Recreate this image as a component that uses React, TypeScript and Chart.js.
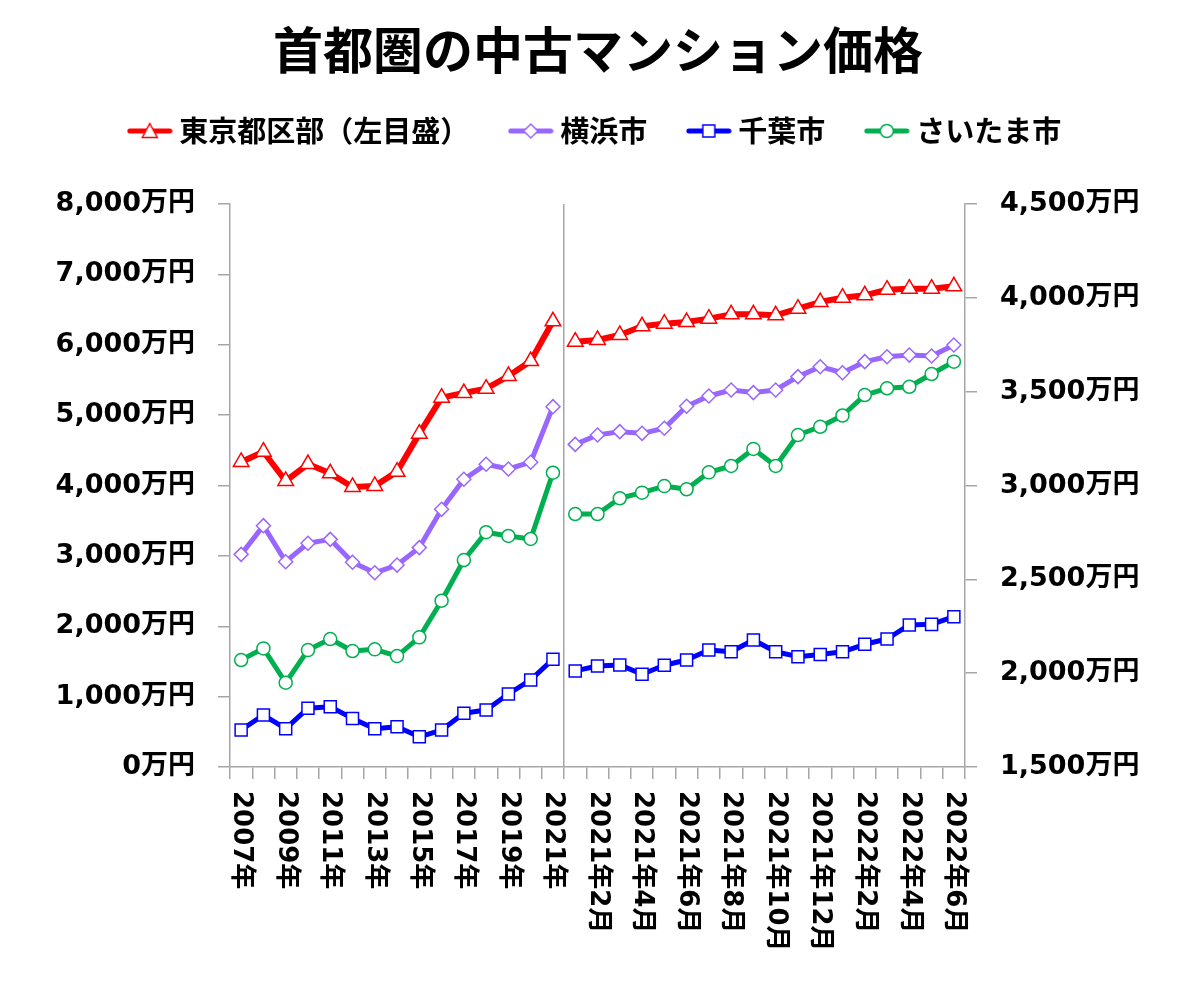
import React, { useEffect, useRef } from 'react';
import { Chart, registerables } from 'chart.js';

Chart.register(...registerables);

// ---- data ----
const annualCategories = [
  '2007年', '2008年', '2009年', '2010年', '2011年', '2012年', '2013年', '2014年',
  '2015年', '2016年', '2017年', '2018年', '2019年', '2020年', '2021年',
];
const monthlyCategories = [
  '2021年1月', '2021年2月', '2021年3月', '2021年4月', '2021年5月', '2021年6月',
  '2021年7月', '2021年8月', '2021年9月', '2021年10月', '2021年11月', '2021年12月',
  '2022年1月', '2022年2月', '2022年3月', '2022年4月', '2022年5月', '2022年6月',
];

// 東京都区部 (left axis, 万円)
const tokyoAnnual = [4334, 4480, 4064, 4305, 4173, 3979, 3993, 4197, 4737, 5248, 5314, 5376, 5556, 5769, 6333];
const tokyoMonthly = [6044, 6068, 6139, 6262, 6300, 6323, 6371, 6432, 6432, 6418, 6512, 6607, 6669, 6702, 6782, 6797, 6797, 6830];
// 横浜市 (right axis, 万円)
const yokohamaAnnual = [2633, 2786, 2594, 2692, 2713, 2591, 2535, 2576, 2669, 2873, 3033, 3113, 3088, 3124, 3420];
const yokohamaMonthly = [3219, 3269, 3287, 3278, 3305, 3422, 3477, 3509, 3495, 3509, 3580, 3633, 3601, 3660, 3686, 3695, 3690, 3749];
// 千葉市 (right axis, 万円)
const chibaAnnual = [1697, 1777, 1704, 1813, 1821, 1759, 1704, 1715, 1661, 1697, 1786, 1804, 1889, 1964, 2074];
const chibaMonthly = [2012, 2038, 2044, 1994, 2042, 2070, 2123, 2114, 2177, 2114, 2088, 2100, 2114, 2154, 2182, 2257, 2260, 2301];
// さいたま市 (right axis, 万円)
const saitamaAnnual = [2070, 2132, 1949, 2123, 2182, 2118, 2127, 2091, 2191, 2386, 2603, 2751, 2731, 2715, 3068];
const saitamaMonthly = [2848, 2848, 2932, 2962, 2997, 2980, 3070, 3104, 3195, 3104, 3269, 3313, 3373, 3482, 3518, 3526, 3594, 3660];

const seriesNames = ['東京都区部（左目盛）', '横浜市', '千葉市', 'さいたま市'];
const titleText = '首都圏の中古マンション価格';

const leftMin = 0;
const leftMax = 8000;
const leftStep = 1000;
const rightMin = 1500;
const rightMax = 4500;
const rightStep = 500;
const unit = '万円';

const categories = [...annualCategories, ...monthlyCategories];
const breakIndex = annualCategories.length - 1;

// ---- styles ----
const GRAY = '#A6A6A6';
const CJK = '"Noto Sans CJK JP"';
const NUM_FONT = '"DejaVu Sans", "Noto Sans CJK JP"';
const RED = '#FF0000';
const PURPLE = '#9966FF';
const BLUE = '#0000FF';
const GREEN = '#00B050';

function makeIcon(color: string, shape: string, lineW: number) {
  const c = document.createElement('canvas');
  c.width = 46;
  c.height = 22;
  const g = c.getContext('2d')!;
  const cx = 23;
  const cy = 11;
  g.strokeStyle = color;
  g.lineWidth = lineW;
  g.lineCap = 'round';
  g.beginPath();
  g.moveTo(3, cy);
  g.lineTo(43, cy);
  g.stroke();
  g.fillStyle = '#fff';
  g.lineWidth = 1.5;
  g.beginPath();
  if (shape === 'triangle') {
    g.moveTo(cx, cy - 7.5);
    g.lineTo(cx + 7.5, cy + 6.5);
    g.lineTo(cx - 7.5, cy + 6.5);
    g.closePath();
  } else if (shape === 'diamond') {
    g.moveTo(cx, cy - 7);
    g.lineTo(cx + 7, cy);
    g.lineTo(cx, cy + 7);
    g.lineTo(cx - 7, cy);
    g.closePath();
  } else if (shape === 'square') {
    g.rect(cx - 6, cy - 6, 12, 12);
  } else {
    g.arc(cx, cy, 6.5, 0, Math.PI * 2);
  }
  g.fill();
  g.stroke();
  return c;
}

const xLabelPlugin = {
  id: 'rotatedXLabels',
  afterDraw(chart: any) {
    const ctx = chart.ctx;
    const xs = chart.scales.x;
    ctx.save();
    ctx.font = `bold 26px ${NUM_FONT}`;
    ctx.fillStyle = '#000';
    ctx.textAlign = 'left';
    ctx.textBaseline = 'middle';
    categories.forEach((lab, i) => {
      if (i % 2 !== 0) return;
      const px = xs.getPixelForValue(i);
      ctx.save();
      ctx.translate(px, xs.top + 24);
      ctx.rotate(Math.PI / 2);
      ctx.fillText(lab, 0, 0);
      ctx.restore();
    });
    ctx.restore();
  },
};

export default function App() {
  const ref = useRef<HTMLCanvasElement | null>(null);

  useEffect(() => {
    document.body.style.margin = '0';
    const canvas = ref.current;
    if (!canvas) return;

    const icons = [
      makeIcon(RED, 'triangle', 5),
      makeIcon(PURPLE, 'diamond', 5),
      makeIcon(BLUE, 'square', 5),
      makeIcon(GREEN, 'circle', 5),
    ];

    const gap = {
      borderColor: (c: any) => (c.p0DataIndex === breakIndex ? 'rgba(0,0,0,0)' : undefined),
    };

    const common = {
      pointBackgroundColor: '#FFFFFF',
      pointBorderWidth: 1.5,
      tension: 0,
      borderJoinStyle: 'round' as const,
      borderCapStyle: 'round' as const,
      segment: gap,
    };

    const fmt = (v: any) => Number(v).toLocaleString('en-US') + unit;

    const chart = new Chart(canvas, {
      type: 'line',
      data: {
        labels: categories,
        datasets: [
          {
            ...common,
            label: seriesNames[0],
            data: [...tokyoAnnual, ...tokyoMonthly],
            yAxisID: 'y',
            borderColor: RED,
            borderWidth: 6,
            pointStyle: 'triangle',
            pointRadius: 9,
            pointBorderColor: RED,
          },
          {
            ...common,
            label: seriesNames[1],
            data: [...yokohamaAnnual, ...yokohamaMonthly],
            yAxisID: 'y2',
            borderColor: PURPLE,
            borderWidth: 5,
            pointStyle: 'rectRot',
            pointRadius: 7,
            pointBorderColor: PURPLE,
          },
          {
            ...common,
            label: seriesNames[2],
            data: [...chibaAnnual, ...chibaMonthly],
            yAxisID: 'y2',
            borderColor: BLUE,
            borderWidth: 5,
            pointStyle: 'rect',
            pointRadius: 8.5,
            pointBorderColor: BLUE,
          },
          {
            ...common,
            label: seriesNames[3],
            data: [...saitamaAnnual, ...saitamaMonthly],
            yAxisID: 'y2',
            borderColor: GREEN,
            borderWidth: 5,
            pointStyle: 'circle',
            pointRadius: 6.5,
            pointBorderColor: GREEN,
          },
        ],
      },
      options: {
        responsive: false,
        animation: false,
        events: [],
        layout: { padding: 0 },
        plugins: {
          title: {
            display: true,
            text: titleText,
            color: '#000',
            font: { family: CJK, size: 50, weight: 'bold', lineHeight: 0.8 },
            padding: { top: 30, bottom: 0 },
          },
          legend: {
            display: true,
            position: 'top',
            labels: {
              usePointStyle: true,
              pointStyleWidth: 30,
              padding: 46.5,
              color: '#000',
              font: { family: CJK, size: 29, weight: 'bold' },
              generateLabels: (ch: any) => {
                const items = (Chart as any).defaults.plugins.legend.labels.generateLabels(ch);
                return items.map((it: any, i: number) => ({ ...it, pointStyle: icons[i], fontColor: '#000' }));
              },
            },
          },
          subtitle: {
            display: true,
            text: '',
            weight: 0,
            font: { size: 1, lineHeight: 1 },
            padding: { top: 47.5, bottom: 0 },
          },
          tooltip: { enabled: false },
        },
        scales: {
          x: {
            type: 'category',
            offset: true,
            grid: {
              offset: true,
              drawOnChartArea: true,
              color: (c: any) => (c.index === breakIndex + 1 ? GRAY : 'rgba(0,0,0,0)'),
              tickColor: GRAY,
              tickLength: 12,
              lineWidth: 1.5,
            },
            border: { color: GRAY, width: 1.5 },
            ticks: { display: false, autoSkip: false },
            afterFit: (s: any) => {
              s.height = 229;
            },
          },
          y: {
            type: 'linear',
            position: 'left',
            min: leftMin,
            max: leftMax,
            ticks: {
              stepSize: leftStep,
              color: '#000',
              padding: 23,
              font: { family: NUM_FONT, size: 27, weight: 'bold' },
              callback: fmt,
            },
            grid: { drawOnChartArea: false, color: GRAY, tickLength: 12, lineWidth: 1.5 },
            border: { color: GRAY, width: 1.5 },
            afterFit: (s: any) => {
              s.width = 230;
            },
          },
          y2: {
            type: 'linear',
            position: 'right',
            min: rightMin,
            max: rightMax,
            ticks: {
              stepSize: rightStep,
              color: '#000',
              padding: 23,
              font: { family: NUM_FONT, size: 27, weight: 'bold' },
              callback: fmt,
            },
            grid: { drawOnChartArea: false, color: GRAY, tickLength: 12, lineWidth: 1.5 },
            border: { color: GRAY, width: 1.5 },
            afterFit: (s: any) => {
              s.width = 231;
            },
          },
        },
      } as any,
      plugins: [xLabelPlugin],
    });

    return () => chart.destroy();
  }, []);

  return <canvas ref={ref} width={1196} height={996} style={{ display: 'block' }} />;
}
